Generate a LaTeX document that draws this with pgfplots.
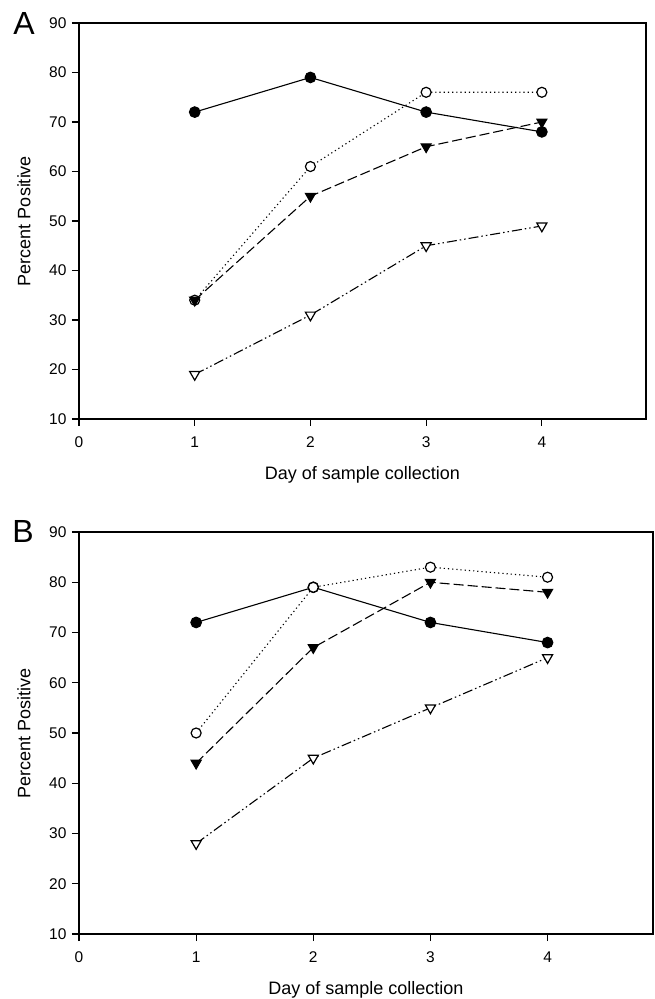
\documentclass[border=0pt]{standalone}
\usepackage{fontspec}
\setmainfont{Liberation Sans}
\usepackage{pgfplots}
\pgfplotsset{compat=1.18}

\pgfplotsset{
  panel/.style={
    scale only axis,
    xmin=0, xmax=4.9, ymin=10, ymax=90,
    xtick={0,1,2,3,4}, ytick={10,20,...,90},
    tick pos=left, tick align=outside, major tick length=7pt,
    axis line style={line width=1.2pt},
    every tick/.style={black, line width=1.2pt},
    /pgf/number format/assume math mode=true,
    tick label style={font=\fontsize{15.5}{17}\selectfont},
    yticklabel style={xshift=-2pt},
    xticklabel style={yshift=-7pt},
    xlabel={Day of sample collection}, ylabel={Percent Positive},
    every axis x label/.style={at={(axis description cs:0.5,0)}, yshift=-56pt, anchor=center, font=\fontsize{18}{20}\selectfont},
    every axis y label/.style={at={(axis description cs:0,0.5)}, xshift=-55pt, rotate=90, anchor=center, font=\fontsize{18}{20}\selectfont},
    clip=false,
  },
  s1/.style={black, line width=1.1pt, solid, mark=*, mark size=5.3pt, mark options={solid, fill=black}},
  s2/.style={black, line width=1.1pt, dash pattern=on 1.2pt off 3pt, mark=*, mark size=5pt, mark options={solid, fill=white, draw=black, line width=1.2pt}},
  s3/.style={black, line width=1.1pt, dash pattern=on 10pt off 4pt, mark=triangle*, mark size=5.8pt, mark options={solid, rotate=180, fill=black, draw=black}},
  s4/.style={black, line width=1.1pt, dash pattern=on 10pt off 3pt on 1.5pt off 3pt on 1.5pt off 3pt, mark=triangle*, mark size=5.8pt, mark options={solid, rotate=180, fill=white, draw=black, line width=1.2pt}},
}

\begin{document}
\begin{tikzpicture}
\path[use as bounding box] (0,0) rectangle (654pt,999pt);

% Panel A
\begin{axis}[panel, at={(79pt,580pt)}, anchor=south west, width=567pt, height=396pt]
\addplot[s1] coordinates {(1,72) (2,79) (3,72) (4,68)};
\addplot[s2] coordinates {(1,34) (2,61) (3,76) (4,76)};
\addplot[s3] coordinates {(1,34) (2,55) (3,65) (4,70)};
\addplot[s4] coordinates {(1,19) (2,31) (3,45) (4,49)};
\end{axis}

% Panel B
\begin{axis}[panel, at={(79pt,65pt)}, anchor=south west, width=574pt, height=402pt]
\addplot[s1] coordinates {(1,72) (2,79) (3,72) (4,68)};
\addplot[s2] coordinates {(1,50) (2,79) (3,83) (4,81)};
\addplot[s3] coordinates {(1,44) (2,67) (3,80) (4,78)};
\addplot[s4] coordinates {(1,28) (2,45) (3,55) (4,65)};
\end{axis}

\node[font=\fontsize{32}{34}\selectfont, inner sep=0pt] at (24pt,975pt) {A};
\node[font=\fontsize{32}{34}\selectfont, inner sep=0pt] at (23pt,468pt) {B};
\end{tikzpicture}
\end{document}
